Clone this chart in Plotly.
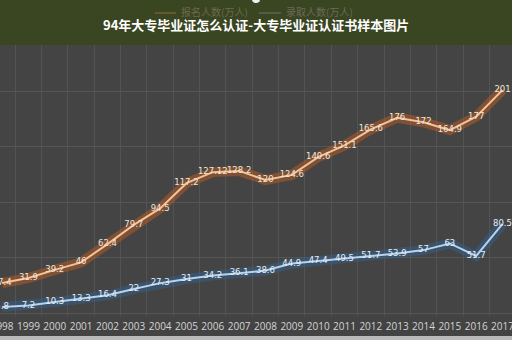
import plotly.graph_objects as go

years = list(range(1998, 2018))
apply_vals = [27.4, 31.9, 39.2, 46, 62.4, 79.7, 94.5, 117.2, 127.12, 128.2,
              120, 124.6, 140.6, 151.1, 165.6, 176, 172, 164.9, 177, 201]
admit_vals = [5.8, 7.2, 10.3, 13.3, 16.4, 22, 27.3, 31, 34.2, 36.1,
              38.6, 44.9, 47.4, 49.5, 51.7, 53.9, 57, 63, 51.7, 80.5]
series_names = ["报名人数(万人)", "录取人数(万人)"]
title_text = "94年大专毕业证怎么认证-大专毕业证认证书样本图片"

W, H = 512, 340
MB = 24
PH = H - MB

def py(px):
    return 1 - px / PH

fig = go.Figure()

# glow layers
fig.add_trace(go.Scatter(x=years, y=apply_vals, mode="lines",
                         line=dict(color="rgba(200,95,30,0.45)", width=10),
                         hoverinfo="skip", showlegend=False, cliponaxis=False))
fig.add_trace(go.Scatter(x=years, y=admit_vals, mode="lines",
                         line=dict(color="rgba(50,100,150,0.45)", width=10),
                         hoverinfo="skip", showlegend=False, cliponaxis=False))
# core lines with labels
fig.add_trace(go.Scatter(x=years, y=apply_vals, mode="lines+text",
                         name=series_names[0],
                         line=dict(color="#f2c39a", width=2),
                         text=[f"{v:g}" for v in apply_vals],
                         textposition="middle center",
                         textfont=dict(color="#efe6dc", size=8.5, family="DejaVu Sans"),
                         showlegend=False, cliponaxis=False))
fig.add_trace(go.Scatter(x=years, y=admit_vals, mode="lines+text",
                         name=series_names[1],
                         line=dict(color="#b5d3ef", width=2),
                         text=[f"{v:g}" for v in admit_vals],
                         textposition="middle center",
                         textfont=dict(color="#e6eef6", size=8.5, family="DejaVu Sans"),
                         showlegend=False, cliponaxis=False))

shapes = [
    dict(type="rect", xref="paper", yref="paper", x0=0, x1=1, y0=py(45), y1=py(0) + 0.01,
         fillcolor="#3a4522", line=dict(width=0), layer="above"),
    dict(type="line", xref="paper", yref="paper", x0=155 / W, x1=176 / W, y0=py(13), y1=py(13),
         line=dict(color="#75622e", width=1.5), layer="above"),
    dict(type="line", xref="paper", yref="paper", x0=259 / W, x1=281 / W, y0=py(13), y1=py(13),
         line=dict(color="#5c6450", width=1.5), layer="above"),
    dict(type="circle", xref="paper", yref="paper", x0=252 / W, x1=260 / W, y0=py(3), y1=py(-5),
         fillcolor="#f0f0f0", line=dict(width=0), layer="above"),
    dict(type="rect", xref="paper", yref="paper", x0=0, x1=1, y0=py(336), y1=py(341),
         fillcolor="#b8b8b8", line=dict(width=0), layer="above"),
]

annotations = [
    dict(xref="paper", yref="paper", x=0.5, y=py(25), text="<b>" + title_text + "</b>",
         showarrow=False, font=dict(color="#ffffff", size=13, family="Noto Sans CJK SC"),
         xanchor="center", yanchor="middle"),
    dict(xref="paper", yref="paper", x=179 / W, y=py(12), text=series_names[0],
         showarrow=False, font=dict(color="#6c6a4e", size=10, family="Noto Sans CJK SC"),
         xanchor="left", yanchor="middle"),
    dict(xref="paper", yref="paper", x=284 / W, y=py(12), text=series_names[1],
         showarrow=False, font=dict(color="#6a6c58", size=10, family="Noto Sans CJK SC"),
         xanchor="left", yanchor="middle"),
]

fig.update_layout(
    width=W, height=H,
    margin=dict(l=0, r=0, t=0, b=MB, autoexpand=False),
    paper_bgcolor="#434343",
    plot_bgcolor="#444444",
    shapes=shapes,
    annotations=annotations,
    xaxis=dict(range=[1997.92, 2017.36], tickmode="array", tickvals=years,
               ticktext=[str(y) for y in years], showgrid=False, zeroline=False,
               tickfont=dict(color="#d4d4d4", size=10, family="Open Sans"),
               ticks="", ticklabelstandoff=3, ticklabeloverflow="allow",
               tickangle=0, automargin=False,
               minor=dict(tickmode="linear", tick0=1998.5, dtick=1, showgrid=True,
                          gridcolor="#535353", gridwidth=1)),
    yaxis=dict(range=[-2.25, 281.9], dtick=50, showgrid=True, gridcolor="#555555",
               zeroline=False, showticklabels=False, ticks="", automargin=False),
)

fig.write_html("out.html")
